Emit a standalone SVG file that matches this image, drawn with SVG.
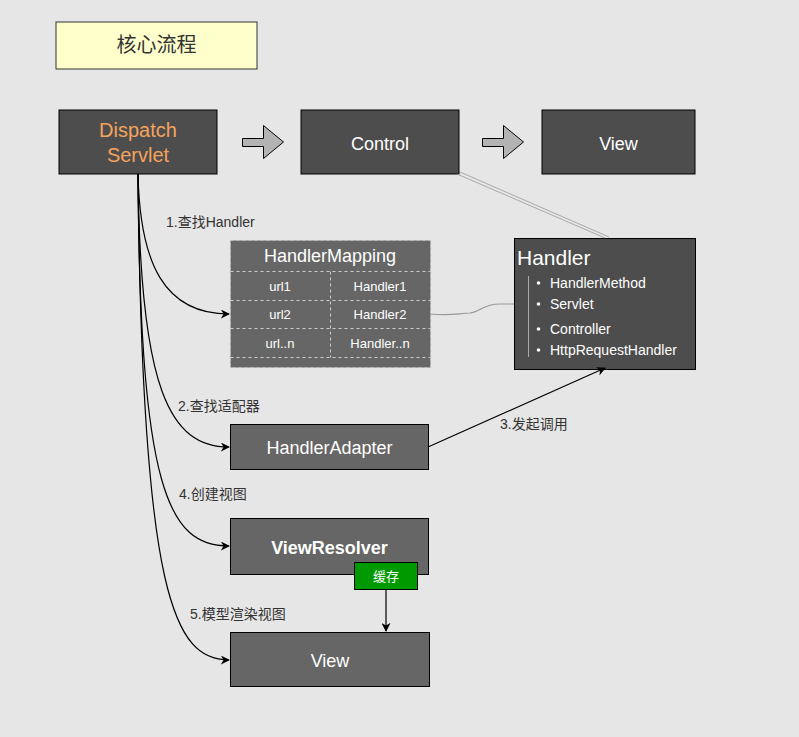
<svg xmlns="http://www.w3.org/2000/svg" width="799" height="737" viewBox="0 0 799 737">
<defs>
<marker id="ah" viewBox="0 0 10 10" refX="9" refY="5" markerWidth="9" markerHeight="9" markerUnits="userSpaceOnUse" orient="auto">
<path d="M0,0 L10,5 L0,10 L3,5 z" fill="#000"/>
</marker>
<style>
.dark{fill:#4d4d4d;stroke:#000;stroke-width:1}
.mid{fill:#666;stroke:#000;stroke-width:1}
.t{font-family:"Liberation Sans",Arial,"Noto Sans CJK SC",sans-serif;}
.wt{fill:#fff;font-size:18px;text-anchor:middle}
.lbl{fill:#333;font-size:14px;font-family:"Liberation Sans","Noto Sans CJK SC",sans-serif}
.cell{fill:#fff;font-size:13px;text-anchor:middle}
.conn{fill:none;stroke:#000;stroke-width:1.2}
.blk{fill:#b3b3b3;stroke:#000;stroke-width:1}
</style>
</defs>
<rect width="799" height="737" fill="#e6e6e6"/>

<g id="title">
<rect x="56" y="22" width="201" height="47" fill="#ffffcc" stroke="#333"/>
<text x="156.5" y="52" class="t" font-size="20" fill="#333" text-anchor="middle" font-family="Noto Sans CJK SC,sans-serif">核心流程</text>
</g>

<g id="dispatch">
<rect x="59" y="110" width="158" height="64" class="dark"/>
<text class="t" x="138" y="137" font-size="20" fill="#f5a35c" text-anchor="middle">Dispatch</text>
<text class="t" x="138" y="162" font-size="20" fill="#f5a35c" text-anchor="middle">Servlet</text>
</g>

<g id="arrow1"><path d="M242.5,138.5 H263.5 V125.5 L283.5,142 L263.5,158.5 V146.5 H242.5 Z" class="blk"/></g>

<g id="control">
<rect x="301" y="110" width="158" height="64" class="dark"/>
<text class="t wt" x="380" y="150">Control</text>
</g>

<g id="arrow2"><path d="M482.5,138.5 H503.5 V125.5 L523.5,142 L503.5,158.5 V146.5 H482.5 Z" class="blk"/></g>

<g id="view-top">
<rect x="542" y="110" width="153" height="64" class="dark"/>
<text class="t wt" x="618.5" y="150">View</text>
</g>

<g id="handlermapping">
<rect x="230.5" y="240.5" width="200" height="127" fill="#666" stroke="#bbb" stroke-dasharray="3,3"/>
<text class="t wt" x="330" y="262">HandlerMapping</text>
<g stroke="#ccc" stroke-dasharray="3,3" stroke-width="1">
<line x1="230.5" y1="271.5" x2="430.5" y2="271.5"/>
<line x1="230.5" y1="300.5" x2="430.5" y2="300.5"/>
<line x1="230.5" y1="328.5" x2="430.5" y2="328.5"/>
<line x1="230.5" y1="357.5" x2="430.5" y2="357.5"/>
<line x1="330.5" y1="271.5" x2="330.5" y2="357.5"/>
</g>
<text class="t cell" x="280" y="291">url1</text>
<text class="t cell" x="380" y="291">Handler1</text>
<text class="t cell" x="280" y="319">url2</text>
<text class="t cell" x="380" y="319">Handler2</text>
<text class="t cell" x="280" y="348">url..n</text>
<text class="t cell" x="380" y="348">Handler..n</text>
</g>

<g id="handler">
<rect x="514.5" y="238.5" width="181" height="131" class="dark"/>
<text class="t" x="517" y="265" font-size="21" fill="#fff">Handler</text>
<line x1="528.5" y1="276" x2="528.5" y2="357" stroke="#aaa"/>
<g fill="#fff">
<circle cx="538.5" cy="283" r="1.8"/>
<circle cx="538.5" cy="304" r="1.8"/>
<circle cx="538.5" cy="329" r="1.8"/>
<circle cx="538.5" cy="350" r="1.8"/>
</g>
<g class="t" font-size="14" fill="#fff">
<text x="550" y="288">HandlerMethod</text>
<text x="550" y="309">Servlet</text>
<text x="550" y="334">Controller</text>
<text x="550" y="355">HttpRequestHandler</text>
</g>
</g>

<g id="handleradapter">
<rect x="230.5" y="424.5" width="198" height="45" class="mid"/>
<text class="t wt" x="329.5" y="454">HandlerAdapter</text>
</g>

<g id="viewresolver">
<rect x="230.5" y="518.5" width="198" height="56" class="mid"/>
<text class="t wt" x="329.5" y="554" font-weight="bold">ViewResolver</text>
</g>

<g id="cache">
<rect x="354.5" y="562.5" width="63" height="27" fill="#009900" stroke="#000"/>
<text class="t" x="386" y="581" font-size="13" fill="#fff" text-anchor="middle" font-family="Noto Sans CJK SC,sans-serif">缓存</text>
</g>

<g id="view-bottom">
<rect x="230.5" y="632.5" width="199" height="54" class="mid"/>
<text class="t wt" x="330" y="667">View</text>
</g>

<g id="connectors">
<path class="conn" d="M138,174 C140,265 165,314 229,314" marker-end="url(#ah)"/>
<path class="conn" d="M138,174 C140,390 170,447 229,447" marker-end="url(#ah)"/>
<path class="conn" d="M138,174 C140,490 168,546 229,546" marker-end="url(#ah)"/>
<path class="conn" d="M138,174 C142,600 175,660 229,660" marker-end="url(#ah)"/>
<path class="conn" d="M428,447 L605,368" marker-end="url(#ah)"/>
<path class="conn" d="M386,590 L386,631" marker-end="url(#ah)"/>
<path d="M430,314 C450,316 455,314 470,313 C480,312 483,304 500,304 L514,304" fill="none" stroke="#999" stroke-width="1.2"/>
<line x1="457" y1="174" x2="605" y2="238" stroke="#999" stroke-width="0.8"/>
<line x1="460" y1="172" x2="609" y2="237" stroke="#999" stroke-width="0.8"/>
<text class="lbl" x="166" y="227">1.查找Handler</text>
<text class="lbl" x="178" y="411">2.查找适配器</text>
<text class="lbl" x="500" y="429">3.发起调用</text>
<text class="lbl" x="179" y="499">4.创建视图</text>
<text class="lbl" x="190" y="619">5.模型渲染视图</text>
</g>
</svg>
